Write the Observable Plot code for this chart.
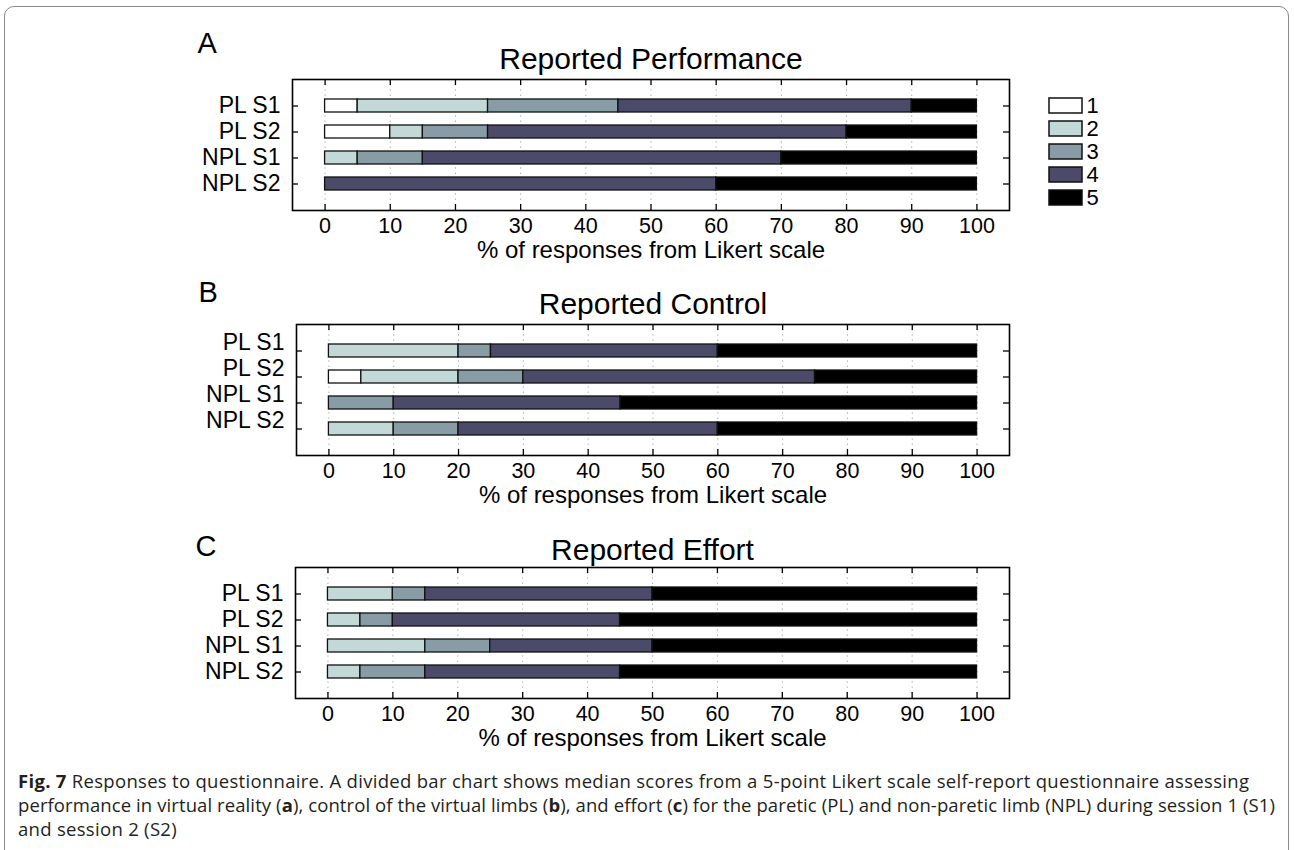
<!DOCTYPE html>
<html>
<head>
<meta charset="utf-8">
<script src="https://cdn.jsdelivr.net/npm/d3@7"></script>
<script src="https://cdn.jsdelivr.net/npm/@observablehq/plot@0.6"></script>
<style>
  html, body { margin: 0; padding: 0; background: #fff; overflow: hidden; }
  #fig { position: relative; width: 1294px; height: 850px; overflow: hidden; }
  #frame { position: absolute; left: 4px; top: 6px; width: 1285px; height: 900px;
           border: 1.5px solid #8a8a8a; border-radius: 10px; box-sizing: border-box; }
  .panel { position: absolute; left: 150px; }
  #legend { position: absolute; left: 1047px; }
  #caption { position: absolute; left: 18px; top: 769px; width: 1270px;
             font-family: "Open Sans", "Noto Sans", sans-serif; font-size: 18.5px;
             line-height: 24px; color: #231f20; white-space: nowrap; }
  #caption b { font-weight: 700; }
</style>
</head>
<body>
<div id="fig">
  <div id="frame"></div>
  <div id="panels"></div>
  <div id="legend"></div>
  <div id="caption"></div>
</div>
<script>
// ---------------- data ----------------
const rows = ["PL S1", "PL S2", "NPL S1", "NPL S2"];
const scores = ["1", "2", "3", "4", "5"];
const colors = ["#ffffff", "#c3d9d8", "#889ca5", "#4b4a69", "#000000"];
const xTicks = [0, 10, 20, 30, 40, 50, 60, 70, 80, 90, 100];
// percentage of responses per Likert score (1..5) for each row
const performance = [[5, 20, 20, 45, 10], [10, 5, 10, 55, 20], [0, 5, 10, 55, 30], [0, 0, 0, 60, 40]];
const control     = [[0, 20, 5, 35, 40], [5, 15, 10, 45, 25], [0, 0, 10, 35, 55], [0, 10, 10, 40, 40]];
const effort      = [[0, 10, 5, 35, 50], [0, 5, 5, 35, 55], [0, 15, 10, 25, 50], [0, 5, 10, 30, 55]];
const titles = ["Reported Performance", "Reported Control", "Reported Effort"];
const letters = ["A", "B", "C"];
const xLabel = "% of responses from Likert scale";
const captionLines = [
  "<b>Fig. 7</b> Responses to questionnaire. A divided bar chart shows median scores from a 5-point Likert scale self-report questionnaire assessing",
  "performance in virtual reality (<b>a</b>), control of the virtual limbs (<b>b</b>), and effort (<b>c</b>) for the paretic (PL) and non-paretic limb (NPL) during session 1 (S1)",
  "and session 2 (S2)"
];
const captionWidths = [1240, 1257, 170];

// ---------------- layout ----------------
const FONT = '"Liberation Sans", Arial, Helvetica, sans-serif';
const layout = [
  {values: performance, boxTop: 79,  boxLeft: 292, titleDy: -20.6, letterDy: -35.3, letterDx: -95,  labelDy: 0},
  {values: control,     boxTop: 324, boxLeft: 296, titleDy: -20.6, letterDy: -31.3, letterDx: -98,  labelDy: -8},
  {values: effort,      boxTop: 567, boxLeft: 295, titleDy: -17.6, letterDy: -20.3, letterDx: -100, labelDy: 0}
];
const BOX_RIGHT = 1009, BOX_H = 131, MT = 55, MB = 60, SVG_LEFT = 150, MR = 20;

function panel(cfg, title, letter) {
  const data = [];
  rows.forEach((r, i) => scores.forEach((s, j) => {
    if (cfg.values[i][j] > 0) data.push({row: r, score: s, value: cfg.values[i][j]});
  }));
  const ml = cfg.boxLeft - SVG_LEFT;
  const boxW = BOX_RIGHT - cfg.boxLeft;
  const tick = {stroke: "#000", strokeWidth: 1.3};
  const chart = Plot.plot({
    width: ml + boxW + MR,
    height: MT + BOX_H + MB,
    marginTop: MT, marginBottom: MB, marginLeft: ml, marginRight: MR,
    style: {fontFamily: FONT, background: "transparent", overflow: "visible", color: "#000"},
    x: {domain: [-5, 105]},
    y: {domain: rows, paddingInner: 0.5, paddingOuter: 0.75},
    color: {domain: scores, range: colors},
    marks: [
      Plot.ruleX(xTicks, {stroke: "#a0a0a0", strokeDasharray: "1.2,4", strokeWidth: 1}),
      Plot.barX(data, {x: "value", y: "row", fill: "score", stroke: "#111", strokeWidth: 1.3}),
      Plot.ruleX(xTicks, {insetBottom: BOX_H - 6, ...tick}),
      Plot.ruleX(xTicks, {insetTop: BOX_H - 6, ...tick}),
      Plot.tickY(rows, {insetRight: boxW - 6, ...tick}),
      Plot.tickY(rows, {insetLeft: boxW - 6, ...tick}),
      Plot.frame({stroke: "#000", strokeWidth: 1.6}),
      Plot.axisX({ticks: xTicks, tickSize: 0, tickPadding: 7, fontSize: 21.5, label: null}),
      Plot.axisY({tickSize: 0, tickPadding: 12, fontSize: 23, label: null, dy: cfg.labelDy}),
      Plot.text([title], {frameAnchor: "top", lineAnchor: "middle", dy: cfg.titleDy, fontSize: 30, fill: "#000"}),
      Plot.text([letter], {frameAnchor: "top-left", lineAnchor: "middle", textAnchor: "start", dx: cfg.letterDx, dy: cfg.letterDy, fontSize: 29, fill: "#000"}),
      Plot.text([xLabel], {frameAnchor: "bottom", lineAnchor: "middle", dy: 39.5, fontSize: 24, fill: "#000"})
    ]
  });
  chart.classList.add("panel");
  chart.style.top = (cfg.boxTop - MT) + "px";
  return chart;
}

const panelsEl = document.getElementById("panels");
layout.forEach((cfg, k) => panelsEl.appendChild(panel(cfg, titles[k], letters[k])));

// ---------------- legend ----------------
const LEG_STEP = 23.75, LEG_BOX_H = 15;
const legend = Plot.plot({
  width: 80, height: LEG_STEP * scores.length,
  marginTop: 0, marginBottom: 0, marginLeft: 2, marginRight: 45,
  style: {fontFamily: FONT, background: "transparent", overflow: "visible", color: "#000"},
  x: {domain: [0, 1], axis: null},
  y: {domain: scores, paddingInner: 1 - LEG_BOX_H / LEG_STEP, paddingOuter: (1 - LEG_BOX_H / LEG_STEP) / 2, axis: null},
  color: {domain: scores, range: colors},
  marks: [
    Plot.barX(scores, {x1: 0, x2: 1, y: d => d, fill: d => d, stroke: "#111", strokeWidth: 1.5}),
    Plot.text(scores, {x: 1, y: d => d, text: d => d, dx: 4, textAnchor: "start", fontSize: 22, fill: "#000"})
  ]
});
const legendEl = document.getElementById("legend");
legendEl.style.top = (104 - LEG_STEP / 2) + "px";
legendEl.appendChild(legend);

// ---------------- caption ----------------
const cap = document.getElementById("caption");
cap.innerHTML = captionLines.map(l => `<div class="cl"><span>${l}</span></div>`).join("");
cap.querySelectorAll(".cl span").forEach((sp, i) => {
  const natural = sp.getBoundingClientRect().width;
  const n = sp.textContent.length;
  const ls = Math.max(-1, Math.min(0.3, (captionWidths[i] - natural) / n));
  sp.style.letterSpacing = ls + "px";
});
</script>
</body>
</html>
